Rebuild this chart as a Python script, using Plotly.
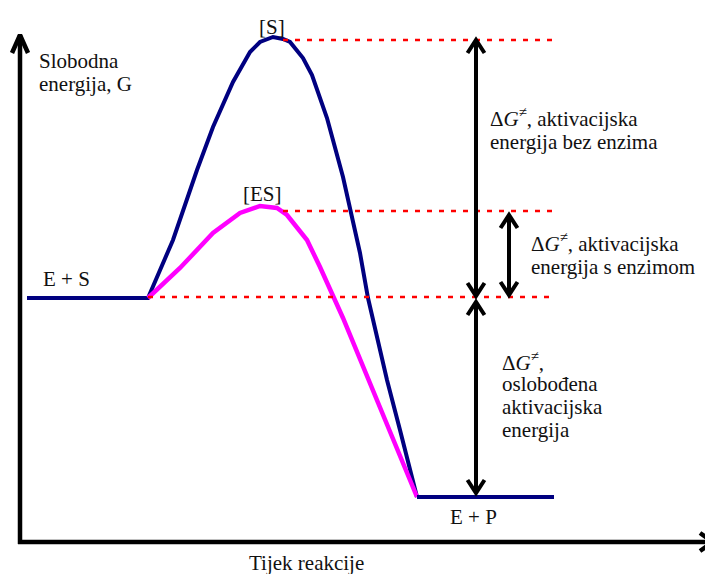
import plotly.graph_objects as go

# ---- data (reaction progress, free energy) ----
uncat_x = [7, 128, 153, 177, 193, 213, 230, 240, 253, 263, 270, 283, 292, 307, 323, 340, 348, 367, 380, 397]
uncat_y = [244, 244, 302, 372, 415, 460, 490, 500, 505, 503, 500, 484, 467, 424, 365, 289, 244, 162, 112, 45]
prod_x = [397, 534]
prod_y = [45, 45]
cat_x = [128, 160, 193, 220, 240, 257, 267, 287, 300, 323, 397]
cat_y = [244, 274, 309, 329, 336, 334, 327, 302, 275, 224, 45]

level_S = 502      # transition state without enzyme
level_ES = 331     # transition state with enzyme
level_start = 245  # E + S
level_end = 45     # E + P

dash_starts = [263, 263, 128]
dash_levels = [level_S, level_ES, level_start]
dash_end = 533

# double arrows: (x, y_top_tip, y_bottom_tip)
arrow_x = [456, 489, 456]
arrow_top = [502, 327, 240]
arrow_bot = [246, 247, 49]

axis_x_end = 693
axis_y_end = 507

NAVY = "#000080"
MAGENTA = "#ff00ff"
RED = "#ff0000"
FONT = "Liberation Serif, Times New Roman, DejaVu Serif, serif"
TXT = "#111111"

fig = go.Figure()

def line(xs, ys, color, width, dash=None):
    fig.add_trace(go.Scatter(x=xs, y=ys, mode="lines",
                             line=dict(color=color, width=width, dash=dash),
                             hoverinfo="skip", showlegend=False))

def vchev(x, y, up, back, half, width=4):
    s = -1 if up else 1
    line([x - half, x, x + half], [y + s * back, y, y + s * back], "black", width)

# axes
line([0, 0], [-2, axis_y_end], "black", 4.5)
vchev(0, axis_y_end, True, 18, 8, 4.5)
line([-2, axis_x_end], [0, 0], "black", 4.5)
line([axis_x_end - 13, axis_x_end, axis_x_end - 13], [9, 0, -9], "black", 4.5)

# curves
line(uncat_x, uncat_y, NAVY, 4)
line(cat_x, cat_y, MAGENTA, 4.5)
line(prod_x, prod_y, NAVY, 4)

# dashed level lines
for xs, lv in zip(dash_starts, dash_levels):
    line([xs, dash_end], [lv, lv], RED, 2.5, "5px,7px")

# double arrows
for ax, yt, yb in zip(arrow_x, arrow_top, arrow_bot):
    line([ax, ax], [yb, yt], "black", 4)
    vchev(ax, yt, True, 13, 8.5)
    vchev(ax, yb, False, 13, 8.5)

DG = "Δ<i>G</i><sup>≠</sup>"
labels = [
    ("[S]", 252, 515, "center"),
    ("[ES]", 242, 348, "center"),
    ("Slobodna", 17, 481, "left"),
    ("energija, G", 17, 458, "left"),
    ("E + S", 21, 263, "left"),
    (DG + ", aktivacijska", 468, 425, "left"),
    ("energija bez enzima", 468, 400, "left"),
    (DG + ", aktivacijska", 509, 300, "left"),
    ("energija s enzimom", 509, 275, "left"),
    (DG + ",", 480, 181, "left"),
    ("oslobođena", 480, 158, "left"),
    ("aktivacijska", 480, 135, "left"),
    ("energija", 480, 112, "left"),
    ("E + P", 453, 25, "center"),
    ("Tijek reakcije", 286, -21, "center"),
]
for t, x, y, anc in labels:
    fig.add_annotation(x=x, y=y, text=t, showarrow=False, xanchor=anc, yanchor="middle",
                       font=dict(family=FONT, size=21, color=TXT))

# page body has an 8px margin: figure is 705x566 placed at (8, 8)
fig.update_layout(
    width=705, height=566,
    margin=dict(l=0, r=0, t=0, b=0),
    paper_bgcolor="white", plot_bgcolor="white",
    font=dict(family=FONT),
    xaxis=dict(range=[-12, 693], visible=False, fixedrange=True),
    yaxis=dict(range=[-32, 534], visible=False, fixedrange=True),
)

fig.write_html("out.html", config={"displayModeBar": False})
